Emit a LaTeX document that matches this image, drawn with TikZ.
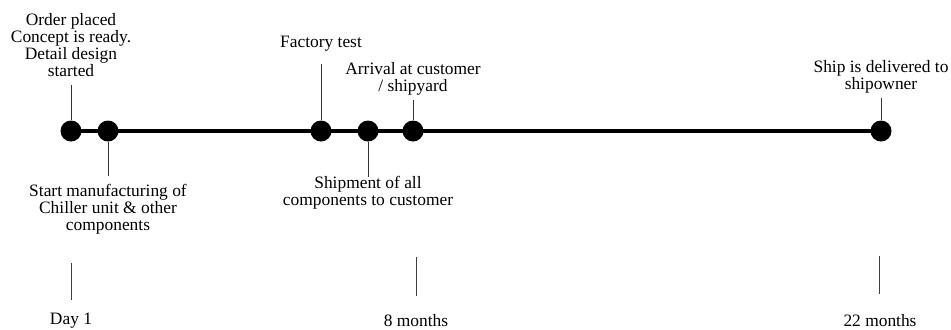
\documentclass[tikz,border=0pt]{standalone}
\usepackage{fontspec}
\setmainfont{Liberation Serif}
\begin{document}
\begin{tikzpicture}[x=0.5pt,y=-0.5pt,
  milestone/.style={circle,fill=black,inner sep=0pt,minimum size=10.5pt},
  lbl/.style={align=center,inner sep=0pt,font=\fontsize{8.7}{8.6}\selectfont},
  stem/.style={draw=black!80,line width=0.5pt},
  tick/.style={draw=black!75,line width=0.5pt},
  axis/.style={line width=2pt}]
\useasboundingbox (0,0) rectangle (951,329);
% milestones on the time line
\node[milestone] (d1) at (71,131) {};
\node[milestone] (d2) at (108,131) {};
\node[milestone] (d3) at (321,131) {};
\node[milestone] (d4) at (368,131) {};
\node[milestone] (d5) at (413,131) {};
\node[milestone] (d6) at (881,131) {};
\draw[axis] (d1.center) -- (d6.center);
% stem ends
\coordinate (s1) at (71,85);
\coordinate (s2) at (108,176);
\coordinate (s3) at (321,64);
\coordinate (s4) at (368,177);
\coordinate (s5) at (413,100);
\coordinate (s6) at (881,98);
\draw[stem] (d1) -- (s1);
\draw[stem] (d2) -- (s2);
\draw[stem] (d3) -- (s3);
\draw[stem] (d4) -- (s4);
\draw[stem] (d5) -- (s5);
\draw[stem] (d6) -- (s6);
% milestone labels
\node[lbl] (l1) at (71,45) {Order placed\\Concept is ready.\\Detail design\\started};
\node[lbl] (l2) at (108,209) {Start manufacturing of\\Chiller unit \& other\\components};
\node[lbl] (l3) at (321,44) {Factory test};
\node[lbl] (l4) at (368,193) {Shipment of all\\components to customer};
\node[lbl] (l5) at (413,79) {Arrival at customer\\/ shipyard};
\node[lbl] (l6) at (881,77) {Ship is delivered to\\shipowner};
% time scale
\coordinate (t1a) at (71,263);  \coordinate (t1b) at (71,300);
\coordinate (t2a) at (416,257); \coordinate (t2b) at (416,296);
\coordinate (t3a) at (879,256); \coordinate (t3b) at (879,294);
\draw[tick] (t1a) -- (t1b);
\draw[tick] (t2a) -- (t2b);
\draw[tick] (t3a) -- (t3b);
\node[lbl] (m1) at (71,321) {Day 1};
\node[lbl] (m2) at (416,321) {8 months};
\node[lbl] (m3) at (880,321) {22 months};
\end{tikzpicture}
\end{document}
